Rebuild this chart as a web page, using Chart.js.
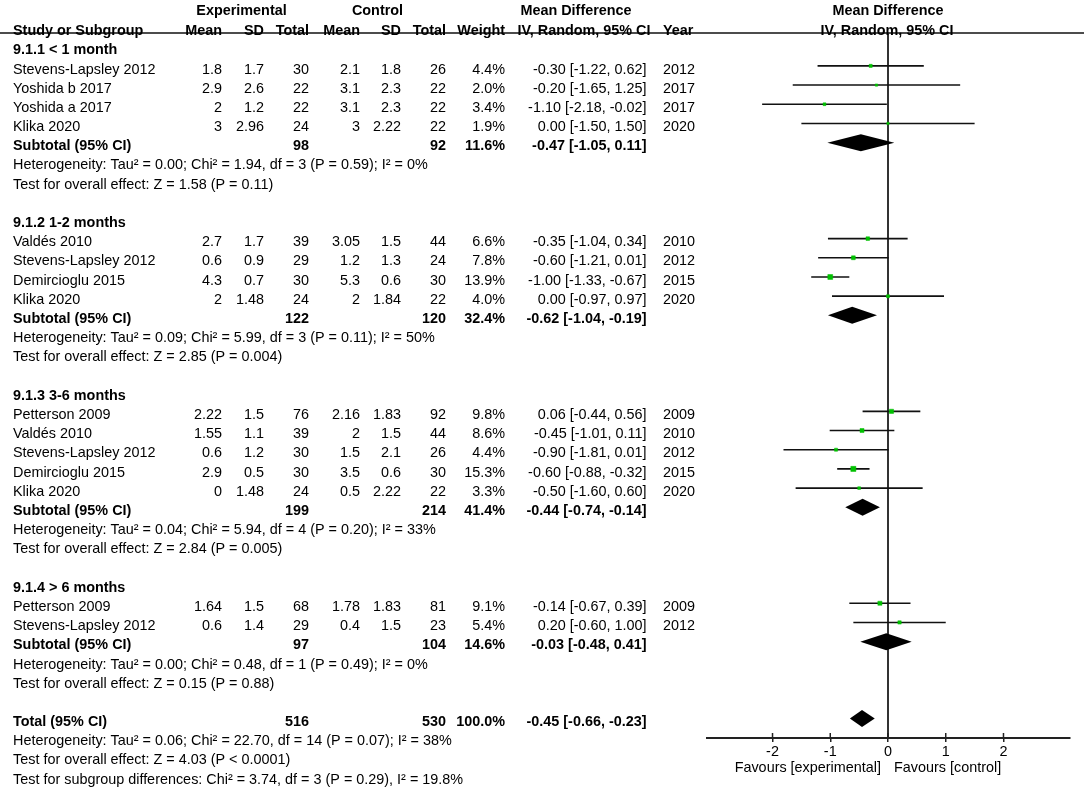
<!DOCTYPE html>
<html><head><meta charset="utf-8">
<script src="https://cdn.jsdelivr.net/npm/chart.js@4.4.1/dist/chart.umd.min.js"></script>
<style>html,body{margin:0;padding:0;background:#fff;}canvas{display:block;}</style>
</head><body>
<canvas id="c" width="1084" height="788"></canvas>
<script>
// ---------------- data ----------------
const groupLabels = ['9.1.1 < 1 month', '9.1.2 1-2 months', '9.1.3 3-6 months', '9.1.4 > 6 months'];
const studyGroup = [0,0,0,0, 1,1,1,1, 2,2,2,2,2, 3,3];
const studyNames = ['Stevens-Lapsley 2012','Yoshida b 2017','Yoshida a 2017','Klika 2020',
  'Valdés 2010','Stevens-Lapsley 2012','Demircioglu 2015','Klika 2020',
  'Petterson 2009','Valdés 2010','Stevens-Lapsley 2012','Demircioglu 2015','Klika 2020',
  'Petterson 2009','Stevens-Lapsley 2012'];
const expMean = [1.8,2.9,2,3, 2.7,0.6,4.3,2, 2.22,1.55,0.6,2.9,0, 1.64,0.6];
const expSD   = [1.7,2.6,1.2,2.96, 1.7,0.9,0.7,1.48, 1.5,1.1,1.2,0.5,1.48, 1.5,1.4];
const expN    = [30,22,22,24, 39,29,30,24, 76,39,30,30,24, 68,29];
const ctrlMean = [2.1,3.1,3.1,3, 3.05,1.2,5.3,2, 2.16,2,1.5,3.5,0.5, 1.78,0.4];
const ctrlSD   = [1.8,2.3,2.3,2.22, 1.5,1.3,0.6,1.84, 1.83,1.5,2.1,0.6,2.22, 1.83,1.5];
const ctrlN    = [26,22,22,22, 44,24,30,22, 92,44,26,30,22, 81,23];
const weights  = [4.4,2.0,3.4,1.9, 6.6,7.8,13.9,4.0, 9.8,8.6,4.4,15.3,3.3, 9.1,5.4];
const meanDiff = [-0.30,-0.20,-1.10,0.00, -0.35,-0.60,-1.00,0.00, 0.06,-0.45,-0.90,-0.60,-0.50, -0.14,0.20];
const ciLow    = [-1.22,-1.65,-2.18,-1.50, -1.04,-1.21,-1.33,-0.97, -0.44,-1.01,-1.81,-0.88,-1.60, -0.67,-0.60];
const ciHigh   = [0.62,1.25,-0.02,1.50, 0.34,0.01,-0.67,0.97, 0.56,0.11,0.01,-0.32,0.60, 0.39,1.00];
const years    = [2012,2017,2017,2020, 2010,2012,2015,2020, 2009,2010,2012,2015,2020, 2009,2012];

const subExpN  = [98,122,199,97];
const subCtrlN = [92,120,214,104];
const subWeight = [11.6,32.4,41.4,14.6];
const subMD   = [-0.47,-0.62,-0.44,-0.03];
const subLow  = [-1.05,-1.04,-0.74,-0.48];
const subHigh = [0.11,-0.19,-0.14,0.41];
const subHet = [
  'Heterogeneity: Tau² = 0.00; Chi² = 1.94, df = 3 (P = 0.59); I² = 0%',
  'Heterogeneity: Tau² = 0.09; Chi² = 5.99, df = 3 (P = 0.11); I² = 50%',
  'Heterogeneity: Tau² = 0.04; Chi² = 5.94, df = 4 (P = 0.20); I² = 33%',
  'Heterogeneity: Tau² = 0.00; Chi² = 0.48, df = 1 (P = 0.49); I² = 0%'];
const subTest = [
  'Test for overall effect: Z = 1.58 (P = 0.11)',
  'Test for overall effect: Z = 2.85 (P = 0.004)',
  'Test for overall effect: Z = 2.84 (P = 0.005)',
  'Test for overall effect: Z = 0.15 (P = 0.88)'];

const totExpN = 516, totCtrlN = 530, totWeight = 100.0;
const totMD = -0.45, totLow = -0.66, totHigh = -0.23;
const totalNotes = [
  'Heterogeneity: Tau² = 0.06; Chi² = 22.70, df = 14 (P = 0.07); I² = 38%',
  'Test for overall effect: Z = 4.03 (P < 0.0001)',
  'Test for subgroup differences: Chi² = 3.74, df = 3 (P = 0.29), I² = 19.8%'];

const xTicks = [-2, -1, 0, 1, 2];
const xMin = -3.14, xMax = 3.14;
const favoursLeft = 'Favours [experimental]';
const favoursRight = 'Favours [control]';

// ---------------- row layout ----------------
const studyRow = [], groupRow = [], subRow = [], hetRow = [], testRow = [];
let r = 1;
for (let g = 0; g < groupLabels.length; g++) {
  groupRow[g] = r++;
  studyGroup.forEach((sg, s) => { if (sg === g) studyRow[s] = r++; });
  subRow[g] = r++; hetRow[g] = r++; testRow[g] = r++;
  r++; // blank
}
const totalRow = r++;
const totalNoteRows = totalNotes.map(() => r++);

// ---------------- geometry / style ----------------
const ROW_PX = 19.3, ROW0_PX = 23.5, PLOT_BOTTOM = 738, TEXT_DY = 3.7, RULE_Y = 33;
const FONT = "'Liberation Sans', Arial, Helvetica, sans-serif";
const FS = 14.4;
const COL = {name: 13, expMean: 222, expSD: 264, expN: 309, ctrlMean: 360, ctrlSD: 401, ctrlN: 446,
             weight: 505, ci: 646.5, year: 663};
const GREEN = '#00c000';

function fmtCI(m, l, h) { return m.toFixed(2) + ' [' + l.toFixed(2) + ', ' + h.toFixed(2) + ']'; }

// ---------------- datasets ----------------
const squares = {
  type: 'scatter', order: 0,
  data: meanDiff.map((m, s) => ({x: m, y: studyRow[s]})),
  pointStyle: 'rect',
  pointRadius: weights.map(w => (0.8 + 1.1 * Math.sqrt(w)) / Math.SQRT2),
  pointBackgroundColor: GREEN, pointBorderColor: GREEN, pointBorderWidth: 0.5,
  pointHoverRadius: 0
};
const ciSets = meanDiff.map((m, s) => ({
  type: 'scatter', order: 1, showLine: true,
  data: [{x: ciLow[s], y: studyRow[s]}, {x: ciHigh[s], y: studyRow[s]}],
  borderColor: '#111', borderWidth: 1.6, pointRadius: 0, pointHoverRadius: 0, fill: false
}));

// ---------------- drawing plugin ----------------
function txt(ctx, s, x, y, align, bold) {
  ctx.font = (bold ? 'bold ' : '') + FS + 'px ' + FONT;
  ctx.textAlign = align; ctx.textBaseline = 'middle'; ctx.fillStyle = '#000';
  ctx.fillText(s, x, y);
}
const forestPlugin = {
  id: 'forest',
  beforeDatasetsDraw(chart) {
    const ctx = chart.ctx, xs = chart.scales.x;
    ctx.save();
    ctx.strokeStyle = '#111'; ctx.lineWidth = 1.5;
    ctx.beginPath(); ctx.moveTo(0, RULE_Y); ctx.lineTo(1084, RULE_Y); ctx.stroke();
    const x0 = xs.getPixelForValue(0);
    ctx.strokeStyle = '#333'; ctx.lineWidth = 2;
    ctx.beginPath(); ctx.moveTo(x0, RULE_Y); ctx.lineTo(x0, chart.chartArea.bottom); ctx.stroke();
    ctx.restore();
  },
  afterDraw(chart) {
    const ctx = chart.ctx, xs = chart.scales.x, ys = chart.scales.y;
    const ty = i => ys.getPixelForValue(i) + TEXT_DY;
    ctx.save();
    ctx.strokeStyle = '#222'; ctx.lineWidth = 1.5;
    xTicks.forEach(v => {
      const px = xs.getPixelForValue(v);
      ctx.beginPath(); ctx.moveTo(px, chart.chartArea.bottom - 5); ctx.lineTo(px, chart.chartArea.bottom); ctx.stroke();
    });
    const diamond = (m, l, h, i) => {
      const cy = ys.getPixelForValue(i), hh = 8.5;
      ctx.fillStyle = '#000';
      ctx.beginPath();
      ctx.moveTo(xs.getPixelForValue(l), cy);
      ctx.lineTo(xs.getPixelForValue(m), cy - hh);
      ctx.lineTo(xs.getPixelForValue(h), cy);
      ctx.lineTo(xs.getPixelForValue(m), cy + hh);
      ctx.closePath(); ctx.fill();
    };
    subMD.forEach((m, g) => diamond(m, subLow[g], subHigh[g], subRow[g]));
    diamond(totMD, totLow, totHigh, totalRow);

    const x0 = xs.getPixelForValue(0);
    const h1 = ty(-1.03), h2 = ty(0);
    txt(ctx, 'Experimental', 241.5, h1, 'center', true);
    txt(ctx, 'Control', 377.5, h1, 'center', true);
    txt(ctx, 'Mean Difference', 576, h1, 'center', true);
    txt(ctx, 'Mean Difference', x0, h1, 'center', true);
    txt(ctx, 'Study or Subgroup', COL.name, h2, 'left', true);
    txt(ctx, 'Mean', COL.expMean, h2, 'right', true);
    txt(ctx, 'SD', COL.expSD, h2, 'right', true);
    txt(ctx, 'Total', COL.expN, h2, 'right', true);
    txt(ctx, 'Mean', COL.ctrlMean, h2, 'right', true);
    txt(ctx, 'SD', COL.ctrlSD, h2, 'right', true);
    txt(ctx, 'Total', COL.ctrlN, h2, 'right', true);
    txt(ctx, 'Weight', COL.weight, h2, 'right', true);
    txt(ctx, 'IV, Random, 95% CI', 584, h2, 'center', true);
    txt(ctx, 'Year', COL.year, h2, 'left', true);
    txt(ctx, 'IV, Random, 95% CI', x0 - 1, h2, 'center', true);

    groupLabels.forEach((lab, g) => {
      txt(ctx, lab, COL.name, ty(groupRow[g]), 'left', true);
      const sy = ty(subRow[g]);
      txt(ctx, 'Subtotal (95% CI)', COL.name, sy, 'left', true);
      txt(ctx, String(subExpN[g]), COL.expN, sy, 'right', true);
      txt(ctx, String(subCtrlN[g]), COL.ctrlN, sy, 'right', true);
      txt(ctx, subWeight[g].toFixed(1) + '%', COL.weight, sy, 'right', true);
      txt(ctx, fmtCI(subMD[g], subLow[g], subHigh[g]), COL.ci, sy, 'right', true);
      txt(ctx, subHet[g], COL.name, ty(hetRow[g]), 'left', false);
      txt(ctx, subTest[g], COL.name, ty(testRow[g]), 'left', false);
    });
    studyNames.forEach((n, s) => {
      const y = ty(studyRow[s]);
      txt(ctx, n, COL.name, y, 'left', false);
      txt(ctx, String(expMean[s]), COL.expMean, y, 'right', false);
      txt(ctx, String(expSD[s]), COL.expSD, y, 'right', false);
      txt(ctx, String(expN[s]), COL.expN, y, 'right', false);
      txt(ctx, String(ctrlMean[s]), COL.ctrlMean, y, 'right', false);
      txt(ctx, String(ctrlSD[s]), COL.ctrlSD, y, 'right', false);
      txt(ctx, String(ctrlN[s]), COL.ctrlN, y, 'right', false);
      txt(ctx, weights[s].toFixed(1) + '%', COL.weight, y, 'right', false);
      txt(ctx, fmtCI(meanDiff[s], ciLow[s], ciHigh[s]), COL.ci, y, 'right', false);
      txt(ctx, String(years[s]), COL.year, y, 'left', false);
    });
    const tyy = ty(totalRow);
    txt(ctx, 'Total (95% CI)', COL.name, tyy, 'left', true);
    txt(ctx, String(totExpN), COL.expN, tyy, 'right', true);
    txt(ctx, String(totCtrlN), COL.ctrlN, tyy, 'right', true);
    txt(ctx, totWeight.toFixed(1) + '%', COL.weight, tyy, 'right', true);
    txt(ctx, fmtCI(totMD, totLow, totHigh), COL.ci, tyy, 'right', true);
    totalNotes.forEach((t, k) => txt(ctx, t, COL.name, ty(totalNoteRows[k]), 'left', false));

    txt(ctx, favoursLeft, x0 - 7, 768, 'right', false);
    txt(ctx, favoursRight, x0 + 6, 768, 'left', false);
    ctx.restore();
  }
};

new Chart(document.getElementById('c'), {
  type: 'scatter',
  data: {datasets: [squares, ...ciSets]},
  options: {
    responsive: false, animation: false, devicePixelRatio: 1,
    layout: {padding: {left: 706.7, right: 14.7, top: 0, bottom: 0}},
    plugins: {legend: {display: false}, tooltip: {enabled: false}},
    events: [],
    scales: {
      x: {
        type: 'linear', min: xMin, max: xMax, position: 'bottom',
        afterBuildTicks: s => { s.ticks = xTicks.map(v => ({value: v})); },
        afterFit: s => { s.height = 788 - PLOT_BOTTOM; },
        grid: {display: true, drawOnChartArea: false, drawTicks: true, tickLength: 4, color: '#222', lineWidth: 1.5},
        border: {display: true, color: '#222', width: 2},
        ticks: {color: '#000', padding: 1, font: {family: FONT, size: FS}, callback: v => String(v)}
      },
      y: {
        type: 'linear', display: false, reverse: true,
        min: -ROW0_PX / ROW_PX, max: (PLOT_BOTTOM - ROW0_PX) / ROW_PX
      }
    }
  },
  plugins: [forestPlugin]
});
</script>
</body></html>
